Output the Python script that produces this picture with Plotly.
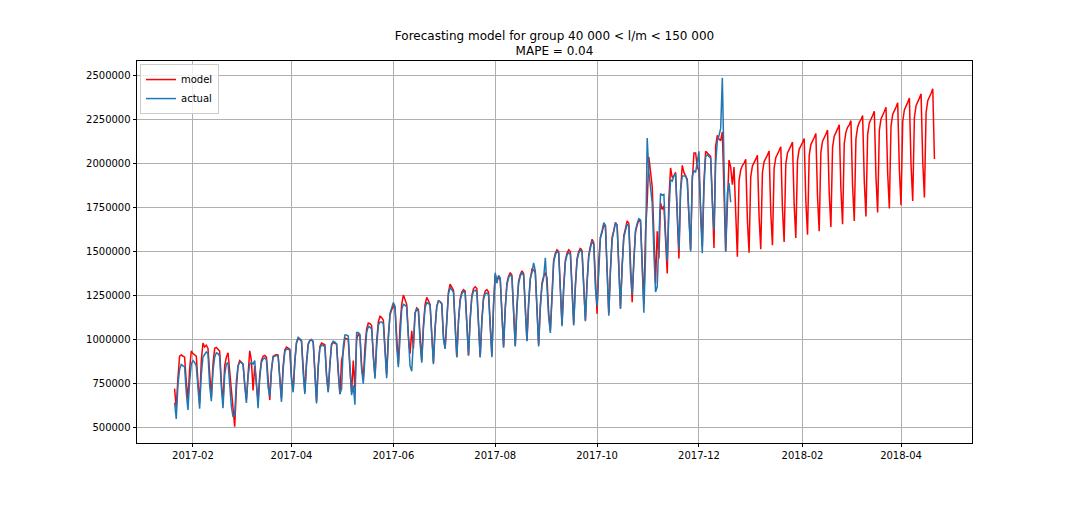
import pandas as pd
import plotly.graph_objects as go

# ---------------- data (values in thousands) ----------------
start_date = "2017-01-21"  # first day of both series (daily data)

# model, in-sample fit: 2017-01-21 .. 2017-12-23 (first value Sat, then weeks Sun..Sat)
model_fit_k = [
    721,
    612, 780, 905, 912, 905, 900, 760,
    660, 830, 935, 920, 910, 905, 760,
    640, 880, 980, 958, 968, 950, 780,
    670, 860, 950, 955, 945, 935, 760,
    640, 850, 900, 925, 820, 700, 580,
    505, 720, 850, 880, 870, 860, 740,
    660, 800, 936, 880, 710, 850, 760,
    650, 800, 880, 905, 910, 900, 760,
    656, 820, 905, 910, 915, 912, 770,
    665, 850, 940, 957, 950, 945, 790,
    707, 880, 980, 1004, 1000, 990, 820,
    700, 870, 975, 995, 997, 990, 820,
    650, 850, 960, 980, 975, 970, 800,
    705, 860, 970, 983, 980, 975, 810,
    690, 880, 930, 1008, 1005, 1000, 830,
    700, 880, 720, 1000, 1030, 1020, 850,
    770, 960, 1060, 1094, 1090, 1080, 900,
    790, 990, 1100, 1132, 1125, 1110, 930,
    800, 1020, 1140, 1170, 1190, 1180, 980,
    860, 1080, 1200, 1253, 1230, 1200, 1020,
    920, 1050, 950, 1150, 1180, 1170, 1000,
    880, 1080, 1200, 1240, 1220, 1200, 1030,
    870, 1070, 1190, 1220, 1215, 1205, 1020,
    950, 1150, 1270, 1315, 1300, 1280, 1090,
    900, 1110, 1230, 1270, 1284, 1275, 1080,
    910, 1120, 1250, 1290, 1300, 1290, 1090,
    900, 1110, 1240, 1275, 1284, 1270, 1080,
    910, 1200, 1370, 1330, 1360, 1340, 1130,
    960, 1180, 1320, 1360, 1380, 1365, 1150,
    965, 1190, 1330, 1370, 1390, 1375, 1160,
    995, 1200, 1340, 1400, 1395, 1380, 1160,
    970, 1190, 1320, 1360, 1380, 1350, 1150,
    1050, 1300, 1450, 1490, 1510, 1500, 1260,
    1085, 1300, 1450, 1490, 1510, 1500, 1270,
    1090, 1310, 1460, 1500, 1520, 1505, 1280,
    1110, 1330, 1480, 1530, 1570, 1550, 1300,
    1146, 1450, 1580, 1610, 1650, 1640, 1380,
    1150, 1400, 1580, 1620, 1665, 1650, 1380,
    1180, 1420, 1590, 1630, 1674, 1660, 1390,
    1212, 1450, 1610, 1650, 1680, 1670, 1400,
    1200, 1610, 1780, 2037, 1950, 1870, 1600,
    1320, 1615, 1460, 1776, 1740, 1760, 1550,
    1375, 1800, 1975, 1920, 1930, 1950, 1700,
    1460, 1850, 1990, 1950, 1930, 1910, 1700,
    1510, 1900, 2060, 2060, 1980, 1960, 1720,
    1530, 1900, 2070, 2060, 2050, 2040, 1800,
    1520, 2100, 2160, 2140, 2130, 2180, 1850,
    1500, 1760, 2020, 1980, 1880, 1980, 1700,
]

# model, forecast: 2017-12-24 .. 2018-04-21 (weeks Sun..Sat)
model_forecast_k = [
    1470, 1903, 1964, 1989, 2003, 2025, 1680,
    1494, 1925, 1986, 2011, 2025, 2047, 1700,
    1513, 1948, 2010, 2035, 2049, 2071, 1723,
    1536, 1973, 2034, 2060, 2074, 2096, 1744,
    1554, 1997, 2060, 2085, 2099, 2122, 1768,
    1577, 2018, 2081, 2106, 2120, 2143, 1787,
    1596, 2045, 2108, 2134, 2148, 2171, 1810,
    1616, 2064, 2127, 2153, 2167, 2190, 1832,
    1639, 2092, 2156, 2182, 2197, 2220, 1853,
    1655, 2114, 2179, 2206, 2220, 2244, 1873,
    1674, 2141, 2207, 2234, 2249, 2273, 1900,
    1699, 2165, 2231, 2258, 2273, 2297, 1923,
    1722, 2188, 2254, 2281, 2296, 2320, 1946,
    1745, 2213, 2279, 2306, 2321, 2345, 1967,
    1764, 2238, 2305, 2332, 2348, 2372, 1992,
    1788, 2262, 2329, 2356, 2372, 2396, 2013,
    1807, 2289, 2357, 2385, 2400, 2425, 2026,
]

# actual: 2017-01-21 .. 2017-12-20
actual_k = [
    641,
    549, 740, 830, 858, 850, 845, 700,
    600, 760, 860, 880, 870, 850, 720,
    607, 800, 900, 915, 930, 920, 740,
    650, 820, 900, 925, 920, 905, 730,
    610, 800, 860, 870, 720, 620, 560,
    570, 765, 850, 870, 870, 860, 720,
    640, 790, 860, 870, 860, 880, 730,
    610, 780, 870, 890, 895, 885, 730,
    675, 830, 900, 905, 910, 905, 760,
    646, 830, 930, 947, 945, 940, 770,
    700, 870, 985, 1013, 1005, 995, 810,
    690, 860, 970, 995, 1000, 985, 800,
    637, 840, 950, 970, 965, 960, 790,
    700, 860, 975, 990, 985, 975, 800,
    690, 720, 960, 1026, 1026, 1020, 820,
    684, 740, 630, 1040, 1040, 1030, 830,
    749, 930, 1040, 1075, 1070, 1060, 880,
    777, 960, 1080, 1100, 1100, 1090, 910,
    780, 1000, 1150, 1180, 1210, 1190, 960,
    843, 1040, 1170, 1200, 1195, 1185, 990,
    850, 820, 1000, 1150, 1175, 1160, 980,
    868, 1060, 1180, 1210, 1205, 1195, 1000,
    860, 1060, 1185, 1220, 1215, 1200, 1000,
    947, 1140, 1260, 1296, 1285, 1270, 1070,
    900, 1100, 1220, 1260, 1275, 1265, 1070,
    910, 1110, 1240, 1275, 1280, 1270, 1080,
    900, 1100, 1230, 1260, 1265, 1255, 1070,
    900, 1190, 1380, 1320, 1365, 1350, 1120,
    953, 1170, 1310, 1350, 1370, 1355, 1140,
    960, 1180, 1320, 1360, 1380, 1365, 1150,
    990, 1210, 1350, 1380, 1435, 1390, 1150,
    960, 1180, 1310, 1350, 1464, 1300, 1130,
    1037, 1290, 1440, 1480, 1503, 1490, 1250,
    1075, 1290, 1440, 1480, 1495, 1485, 1260,
    1080, 1300, 1450, 1490, 1510, 1495, 1270,
    1104, 1320, 1470, 1520, 1560, 1540, 1290,
    1190, 1440, 1580, 1620, 1665, 1650, 1370,
    1136, 1390, 1570, 1615, 1665, 1650, 1370,
    1174, 1410, 1580, 1620, 1655, 1645, 1380,
    1256, 1460, 1620, 1660, 1687, 1680, 1410,
    1152, 1475, 2145, 1950, 1850, 1776, 1500,
    1270, 1300, 1600, 1830, 1820, 1825, 1600,
    1445, 1720, 1910, 1900, 1930, 1940, 1720,
    1510, 1850, 1930, 1930, 1930, 1900, 1680,
    1500, 1930, 1960, 1950, 2000, 2070, 1700,
    1490, 1870, 2040, 2050, 2040, 2030, 1780,
    1620, 2000, 2130, 2160, 2200, 2487, 2000,
    1500, 1830, 1890, 1780,
]

y_tick_vals = [500000, 750000, 1000000, 1250000, 1500000, 1750000, 2000000, 2250000, 2500000]
x_tick_vals = ["2017-02-01", "2017-04-01", "2017-06-01", "2017-08-01",
               "2017-10-01", "2017-12-01", "2018-02-01", "2018-04-01"]
x_tick_text = ["2017-02", "2017-04", "2017-06", "2017-08",
               "2017-10", "2017-12", "2018-02", "2018-04"]

title_text = "Forecasting model for group 40 000 &lt; l/m &lt; 150 000<br>MAPE = 0.04"

# ---------------- build ----------------
model = [v * 1000 for v in model_fit_k + model_forecast_k]
actual = [v * 1000 for v in actual_k]
dates_model = pd.date_range(start_date, periods=len(model), freq="D")
dates_actual = pd.date_range(start_date, periods=len(actual), freq="D")

fig = go.Figure()
fig.add_trace(go.Scatter(x=dates_model, y=model, mode="lines", name="model",
                         line=dict(color="#ff0000", width=1.5)))
fig.add_trace(go.Scatter(x=dates_actual, y=actual, mode="lines", name="actual",
                         line=dict(color="#1f77b4", width=1.5)))

axis_common = dict(showgrid=True, gridcolor="#b0b0b0", gridwidth=0.8,
                   ticks="outside", ticklen=3.5, tickwidth=0.8, tickcolor="black",
                   showline=True, linecolor="black", linewidth=0.8, mirror=True,
                   zeroline=False, tickfont=dict(family="DejaVu Sans", size=10, color="black"))

fig.update_layout(
    width=1080, height=507,
    margin=dict(l=129, r=116, t=53, b=72),
    paper_bgcolor="white", plot_bgcolor="white",
    font=dict(family="DejaVu Sans", size=10, color="black"),
    title=dict(text=title_text, x=0.5, xref="paper", xanchor="center",
               y=1 - 31.5 / 507, yref="container", yanchor="middle",
               font=dict(family="DejaVu Sans", size=12, color="black")),
    legend=dict(x=0.0036, y=0.992, xanchor="left", yanchor="top",
                bgcolor="rgba(255,255,255,0.8)", bordercolor="#cccccc", borderwidth=1,
                font=dict(family="DejaVu Sans", size=10, color="black"),
                tracegroupgap=0, itemwidth=30),
    showlegend=True,
)
fig.update_xaxes(type="date", range=["2016-12-29 12:00", "2018-05-13 12:00"],
                 tickmode="array", tickvals=x_tick_vals, ticktext=x_tick_text, **axis_common)
fig.update_yaxes(range=[412000, 2583000], tickmode="array", tickvals=y_tick_vals,
                 tickformat="d", **axis_common)

fig.write_html("out.html")
